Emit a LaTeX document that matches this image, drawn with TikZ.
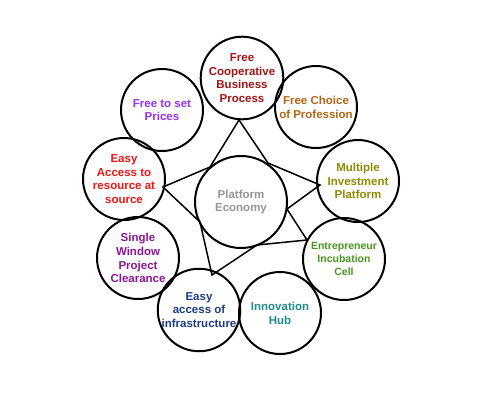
\documentclass[tikz,border=0pt]{standalone}
\usepackage{fontspec}
\setmainfont{Liberation Sans}
\definecolor{coopred}{RGB}{160,20,20}
\definecolor{choicebrown}{RGB}{180,100,20}
\definecolor{investolive}{RGB}{140,140,0}
\definecolor{incubgreen}{RGB}{70,150,30}
\definecolor{innovteal}{RGB}{30,140,140}
\definecolor{infrablue}{RGB}{30,60,130}
\definecolor{windowpurple}{RGB}{140,20,150}
\definecolor{accessred}{RGB}{240,20,20}
\definecolor{pricesviolet}{RGB}{150,50,240}
\definecolor{platgray}{RGB}{150,150,150}
\begin{document}
\begin{tikzpicture}[x=1pt, y=-1pt,
  every node/.style={font=\fontsize{11.5}{13.8}\selectfont\bfseries, align=center},
  bubble/.style={draw, circle, line width=2pt, minimum size=82pt, inner sep=0pt}]
  \useasboundingbox (0,0) rectangle (487,400);
  % star round the hub
  \coordinate (st) at (239,120);
  \coordinate (sl) at (163,187);
  \coordinate (sbl) at (212,275);
  \coordinate (sbr) at (307,240);
  \coordinate (sr) at (320,185);
  \coordinate (i1) at (210,167);
  \coordinate (i2) at (200,222);
  \coordinate (i3) at (257,245);
  \coordinate (i4) at (287,209);
  \coordinate (i5) at (268,163);
  \draw[line width=1.5pt] (st) -- (i1) -- (sl) -- (i2) -- (sbl) -- (i3) -- (sbr) -- (i4) -- (sr) -- (i5) -- cycle;
  \node[bubble, minimum size=92pt, text=platgray] (plat) at (241,202) {Platform\\ Economy};
  % outer ring
  \node[bubble, text=coopred] (coop) at (242,78) {Free\\ Cooperative\\ Business\\ Process};
  \node[bubble, text=choicebrown] (choice) at (316,107) {Free Choice\\ of Profession};
  \node[bubble, text=investolive] (invest) at (358,181) {Multiple\\ Investment\\ Platform};
  \node[bubble, text=incubgreen, font=\fontsize{10.5}{13}\selectfont\bfseries] (incub) at (344,259) {Entrepreneur\\ Incubation\\ Cell};
  \node[bubble, text=innovteal] (innov) at (280,313) {Innovation\\ Hub};
  \node[bubble, text=infrablue] (infra) at (199,310) {Easy\\ access of\\ infrastructure};
  \node[bubble, text=windowpurple] (window) at (138,258) {Single\\ Window\\ Project\\ Clearance};
  \node[bubble, text=accessred] (access) at (124,179) {Easy\\ Access to\\ resource at\\ source};
  \node[bubble, text=pricesviolet] (prices) at (162,110) {Free to set\\ Prices};
\end{tikzpicture}
\end{document}
